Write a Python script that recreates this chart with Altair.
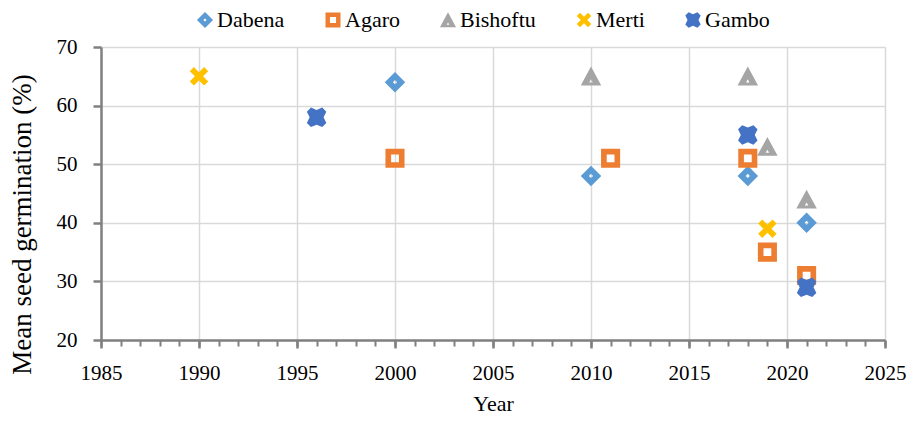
import altair as alt
import pandas as pd

series = ["Dabena", "Agaro", "Bishoftu", "Merti", "Gambo"]
colors = ["#5B9BD5", "#ED7D31", "#A5A5A5", "#FFC000", "#4472C4"]

dabena_year = [2000, 2010, 2018, 2021]
dabena_val = [64, 48, 48, 40]
agaro_year = [2000, 2011, 2018, 2019, 2021]
agaro_val = [51, 51, 51, 35, 31]
bishoftu_year = [2010, 2018, 2019, 2021]
bishoftu_val = [65, 65, 53, 44]
merti_year = [1990, 2019]
merti_val = [65, 39]
gambo_year = [1996, 2018, 2021]
gambo_val = [58, 55, 29]

x_ticks = [1985, 1990, 1995, 2000, 2005, 2010, 2015, 2020, 2025]
minor_ticks = list(range(1985, 2026))
y_ticks = [20, 30, 40, 50, 60, 70]

# marker shapes (unit-square SVG paths; inner sub-paths wound opposite = holes)
shapes = [
    "M0,-1L1,0L0,1L-1,0Z M0,-0.2L-0.2,0L0,0.2L0.2,0Z",
    "M-0.93,-0.93L0.93,-0.93L0.93,0.93L-0.93,0.93Z M-0.38,-0.38L-0.38,0.38L0.38,0.38L0.38,-0.38Z",
    "M0,-0.95L1,0.9L-1,0.9Z M0,0.3L-0.17,0.6L0.17,0.6Z",
    "M-0.5,-0.9L0,-0.4L0.5,-0.9L0.9,-0.5L0.4,0L0.9,0.5L0.5,0.9L0,0.4L-0.5,0.9L-0.9,0.5L-0.4,0L-0.9,-0.5Z",
    "M-0.55,-0.95L0,-0.72L0.55,-0.95L0.95,-0.55L0.68,0L0.95,0.55L0.55,0.95L0,0.72L-0.55,0.95L-0.95,0.55L-0.68,0L-0.95,-0.55Z",
]

rows = []
for name, ys, vs in [
    ("Dabena", dabena_year, dabena_val),
    ("Agaro", agaro_year, agaro_val),
    ("Bishoftu", bishoftu_year, bishoftu_val),
    ("Merti", merti_year, merti_val),
    ("Gambo", gambo_year, gambo_val),
]:
    for y, v in zip(ys, vs):
        rows.append({"Site": name, "Year": y, "Germination": v})
df = pd.DataFrame(rows)

FONT = "Liberation Serif"
AXC = "#808080"

legend = alt.Legend(
    title=None, orient="none", direction="horizontal", legendX=93, legendY=-38,
    columnPadding=37, labelOffset=1, symbolSize=260, labelFontSize=22,
    labelFont=FONT, labelColor="#000000", symbolStrokeWidth=0,
)

points = alt.Chart(df).mark_point(filled=True, opacity=1, size=420).encode(
    x=alt.X(
        "Year:Q",
        scale=alt.Scale(domain=[1985, 2025], nice=False, zero=False),
        axis=alt.Axis(
            orient="bottom",
            values=x_ticks, format="d", title="Year", tickSize=8, tickWidth=2.5,
            labelPadding=14, labelFontSize=21, labelFont=FONT, labelColor="#000000",
            titleFontSize=22, titleFont=FONT, titleFontWeight="normal", titleColor="#000000",
            titleY=63, titleBaseline="middle",
            domainColor=AXC, domainWidth=2.5, tickColor=AXC,
            grid=True, gridColor="#d9d9d9", gridWidth=1.5, labelFlush=False,
        ),
    ),
    y=alt.Y(
        "Germination:Q",
        scale=alt.Scale(domain=[20, 70], nice=False, zero=False),
        axis=alt.Axis(
            values=y_ticks, title="Mean seed germination (%)", tickSize=8, tickWidth=2.5,
            labelPadding=16, labelFontSize=21, labelFont=FONT, labelColor="#000000",
            titleFontSize=27, titleFont=FONT, titleFontWeight="normal", titleColor="#000000",
            titleX=-79, titleY=177, titleBaseline="middle", titleAngle=270,
            domainColor=AXC, domainWidth=2.5, tickColor=AXC,
            grid=True, gridColor="#d9d9d9", gridWidth=1.5, labelFlush=False,
        ),
    ),
    color=alt.Color("Site:N", scale=alt.Scale(domain=series, range=colors), legend=legend),
    shape=alt.Shape("Site:N", scale=alt.Scale(domain=series, range=shapes), legend=legend),
)

minor = alt.Chart(pd.DataFrame({"Year": minor_ticks})).mark_point(opacity=0).encode(
    x=alt.X(
        "Year:Q",
        axis=alt.Axis(
            values=minor_ticks, orient="bottom", labels=False, domain=False, grid=False,
            tickSize=6, tickWidth=2, tickColor=AXC, title=None,
        ),
    ),
)

chart = alt.layer(points, minor).resolve_axis(x="independent").properties(
    width=784, height=293,
    autosize=alt.AutoSizeParams(type="none"),
    padding={"left": 93, "top": 39, "right": 25, "bottom": 74},
).configure_view(stroke=None)

chart.save("out.html", embed_options={"renderer": "svg", "actions": False})
